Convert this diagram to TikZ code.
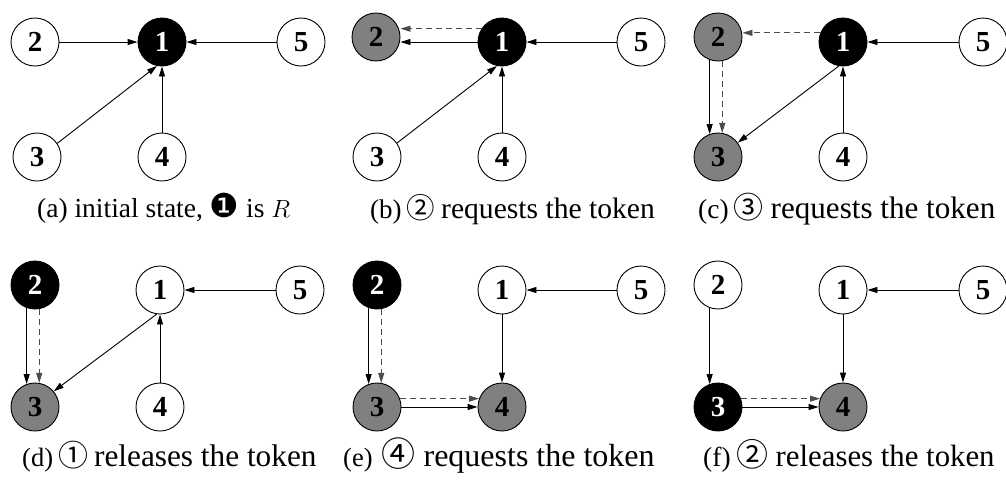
\documentclass[tikz,border=0pt]{standalone}
\usepackage{fontspec}
\setmainfont{Liberation Serif}
\newfontfamily\symfont{DejaVu Sans}
\newfontfamily\cjkcirc{Noto Sans CJK SC}
\usetikzlibrary{arrows.meta}
\newcommand\mycap[8]{{\fontsize{#1}{#1}\selectfont #2}\hspace{#3}{\cjkcirc\fontsize{#4}{#4}\selectfont #5}\hspace{#6}{\fontsize{#7}{#7}\selectfont #8}}
\begin{document}
\begin{tikzpicture}[x=1pt,y=-1pt,
  nd/.style={circle,draw=black,line width=0.9pt,minimum size=48pt,inner sep=0pt,
    font=\fontsize{29}{29}\selectfont\bfseries,fill=white,text=black},
  gnd/.style={nd,fill=gray},
  bnd/.style={nd,fill=black,text=white},
  arr/.style={line width=0.9pt,draw=black,-{Triangle[length=10pt,width=6pt]}},
  darr/.style={arr,draw=black!70,dash pattern=on 6pt off 4pt},
  captxt/.style={anchor=base west,inner sep=0pt,font=\fontsize{31}{36}\selectfont},
  captxta/.style={captxt,font=\fontsize{27.5}{34}\selectfont}
]
\fill[white] (0,0) rectangle (1006,480);
\useasboundingbox (0,0) rectangle (1006,480);

% ---------- (a)
\node[nd]  (a2) at (35,42) {2};
\node[bnd] (a1) at (162,42) {1};
\node[nd]  (a5) at (301,42) {5};
\node[nd]  (a3) at (37,157) {3};
\node[nd]  (a4) at (162,157) {4};
\draw[arr] (a2.east) -- (a1.west);
\draw[arr] (a5.west) -- (a1.east);
\draw[arr] (a3.34) -- (a1.258);
\draw[arr] (a4.north) -- (a1.south);
\node[captxta] (ca) at (37,217) {(a) initial state, {\symfont\fontsize{33}{33}\selectfont ❶} is $R$};

% ---------- (b)
\node[gnd] (b2) at (376,37) {2};
\node[bnd] (b1) at (502,42) {1};
\node[nd]  (b5) at (641,42) {5};
\node[nd]  (b3) at (377,157) {3};
\node[nd]  (b4) at (502,157) {4};
\draw[arr] (b1.west) -- (b1.west -| b2.east);
\draw[darr] (b1.147) -- (b1.147 -| b2.east);
\draw[arr] (b5.west) -- (b1.east);
\draw[arr] (b3.35) -- (b1.258);
\draw[arr] (b4.north) -- (b1.south);
\node[captxt] (cb) at (370,218) {\mycap{27}{(b)}{5pt}{28.5}{②}{6pt}{29.6}{requests the token}};

% ---------- (c)
\node[gnd] (c2) at (718,37) {2};
\node[bnd] (c1) at (843,42) {1};
\node[nd]  (c5) at (983,42) {5};
\node[gnd] (c3) at (718,157) {3};
\node[nd]  (c4) at (843,157) {4};
\draw[darr] (c1.158) -- (c1.158 -| c2.east);
\draw[arr] (c2.250) -- (c3.110);
\draw[darr] (c2.280) -- (c3.80);
\draw[arr] (c1.260) -- (c3.36);
\draw[arr] (c5.west) -- (c1.east);
\draw[arr] (c4.north) -- (c1.south);
\node[captxt] (cc) at (698,218) {\mycap{27.5}{(c)}{5pt}{30}{③}{7pt}{31.1}{requests the token}};

% ---------- (d)
\node[bnd] (d2) at (35,285) {2};
\node[nd]  (d1) at (160,290) {1};
\node[nd]  (d5) at (300,290) {5};
\node[gnd] (d3) at (35,407) {3};
\node[nd]  (d4) at (160,407) {4};
\draw[arr] (d2.250) -- (d3.110);
\draw[darr] (d2.280) -- (d3.80);
\draw[arr] (d1.262) -- (d3.40);
\draw[arr] (d5.west) -- (d1.east);
\draw[arr] (d4.north) -- (d1.south);
\node[captxt] (cd) at (22,466) {\mycap{26.5}{(d)}{5pt}{30}{①}{6pt}{31.3}{releases the token}};

% ---------- (e)
\node[bnd] (e2) at (377,285) {2};
\node[nd]  (e1) at (502,290) {1};
\node[nd]  (e5) at (641,290) {5};
\node[gnd] (e3) at (377,407) {3};
\node[gnd] (e4) at (502,407) {4};
\draw[arr] (e2.250) -- (e3.110);
\draw[darr] (e2.280) -- (e3.80);
\draw[arr] (e1.south) -- (e4.north);
\draw[arr] (e3.east) -- (e4.west);
\draw[darr] (e3.20) -- (e4.160);
\draw[arr] (e5.west) -- (e1.east);
\node[captxt] (ce) at (343,466) {\mycap{26.5}{(e)}{9pt}{34}{④}{8pt}{32}{requests the token}};

% ---------- (f)
\node[nd]  (f2) at (718,285) {2};
\node[nd]  (f1) at (843,290) {1};
\node[nd]  (f5) at (983,290) {5};
\node[bnd] (f3) at (718,407) {3};
\node[gnd] (f4) at (843,407) {4};
\draw[arr] (f2.250) -- (f3.110);
\draw[arr] (f1.south) -- (f4.north);
\draw[arr] (f3.east) -- (f4.west);
\draw[darr] (f3.20) -- (f4.160);
\draw[arr] (f5.west) -- (f1.east);
\node[captxt] (cf) at (703,466) {\mycap{27.5}{(f)}{6pt}{32}{②}{7pt}{30.8}{releases the token}};
\end{tikzpicture}
\end{document}
